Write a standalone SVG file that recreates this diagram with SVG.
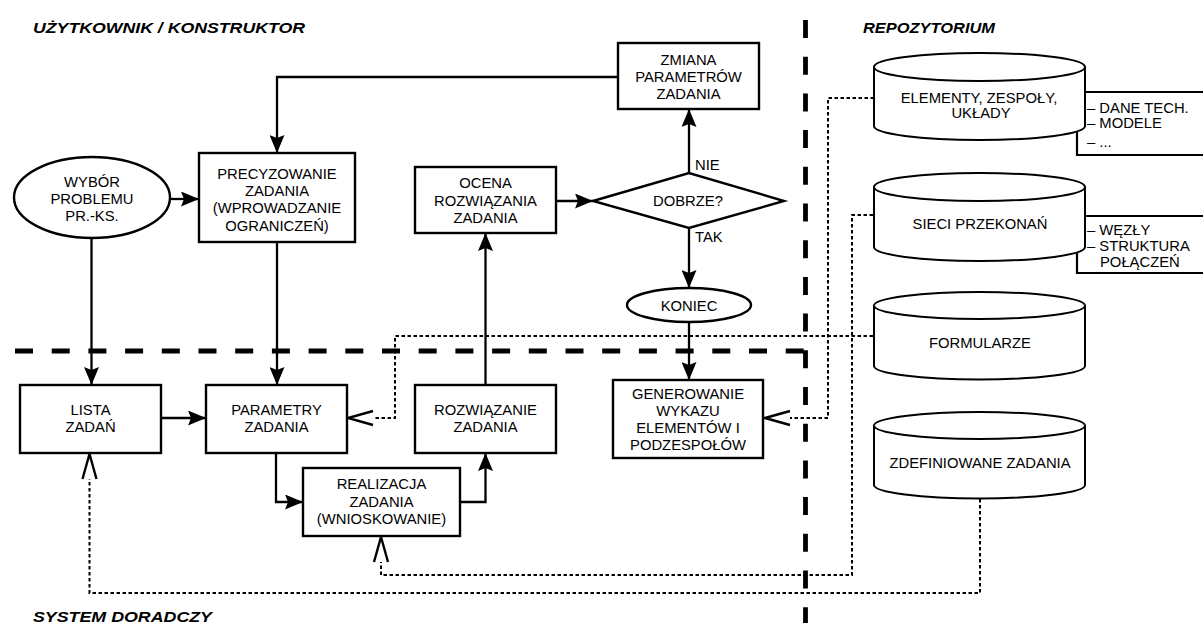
<svg xmlns="http://www.w3.org/2000/svg" width="1203" height="623" viewBox="0 0 1203 623">
<style>
text{font-family:"Liberation Sans",Arial,sans-serif;font-size:14.8px;fill:#000;text-anchor:middle}
.title{font-weight:bold;font-style:italic;font-size:14.5px;text-anchor:start}
.lbl{text-anchor:start}
.box{fill:#fff;stroke:#000;stroke-width:2.4}
.cyl{fill:#fff;stroke:#000;stroke-width:2}
.ln{fill:none;stroke:#000;stroke-width:2.3}
.dot{fill:none;stroke:#000;stroke-width:2;stroke-dasharray:3.5 2.5}
.region{fill:none;stroke:#000;stroke-width:4.8;stroke-dasharray:18 18.7}
.brk{fill:none;stroke:#000;stroke-width:2.2}
</style>
<defs>
<marker id="arr" viewBox="0 0 18 15" refX="18" refY="7.5" markerWidth="18" markerHeight="15" markerUnits="userSpaceOnUse" orient="auto">
<path d="M0,0 L18,7.5 L0,15 L3,7.5 z" fill="#000"/>
</marker>
<marker id="open" viewBox="0 -9 27 18" refX="0" refY="0" markerWidth="27" markerHeight="18" markerUnits="userSpaceOnUse" orient="auto" overflow="visible">
<path d="M0,-7 L25,0 L0,7" fill="none" stroke="#000" stroke-width="2.4"/>
</marker>
</defs>
<rect width="1203" height="623" fill="#fff"/>

<g id="regions">
<path class="region" d="M805.5,20 V623"/>
<path class="region" d="M15,351 H806"/>
<text class="title" x="33" y="33" textLength="272" lengthAdjust="spacingAndGlyphs">UŻYTKOWNIK / KONSTRUKTOR</text>
<text class="title" x="863" y="33" textLength="132" lengthAdjust="spacingAndGlyphs">REPOZYTORIUM</text>
<text class="title" x="33" y="622" textLength="179" lengthAdjust="spacingAndGlyphs">SYSTEM DORADCZY</text>
</g>

<g id="connectors">
<path class="ln" d="M618,77 H277 V153" marker-end="url(#arr)"/>
<path class="ln" d="M170,199 H199" marker-end="url(#arr)"/>
<path class="ln" d="M91.5,238 V385" marker-end="url(#arr)"/>
<path class="ln" d="M277,242 V385" marker-end="url(#arr)"/>
<path class="ln" d="M161,418 H206" marker-end="url(#arr)"/>
<path class="ln" d="M276,453 V502 H303" marker-end="url(#arr)"/>
<path class="ln" d="M460,502 H485.5 V453" marker-end="url(#arr)"/>
<path class="ln" d="M485.5,385 V233" marker-end="url(#arr)"/>
<path class="ln" d="M556,201 H593" marker-end="url(#arr)"/>
<path class="ln" d="M689,173 V109" marker-end="url(#arr)"/>
<path class="ln" d="M689,228 V288" marker-end="url(#arr)"/>
<path class="ln" d="M689,322 V380" marker-end="url(#arr)"/>
<path class="dot" d="M874,98 H828 V418 H790" marker-end="url(#open)"/>
<path class="dot" d="M873,215 H852 V575 H381 V562" marker-end="url(#open)"/>
<path class="dot" d="M873,336 H395 V418 H373" marker-end="url(#open)"/>
<path class="dot" d="M980,499 V593 H89.5 V479" marker-end="url(#open)"/>
<text class="lbl" x="695" y="170">NIE</text>
<text class="lbl" x="695" y="242">TAK</text>
</g>

<g id="wybor">
<ellipse class="box" cx="92" cy="197.5" rx="78" ry="40.5"/>
<text x="92" y="187">WYBÓR</text>
<text x="92" y="204">PROBLEMU</text>
<text x="92" y="221">PR.-KS.</text>
</g>

<g id="precyzowanie">
<rect class="box" x="199" y="153" width="156" height="89"/>
<text x="277" y="178.5">PRECYZOWANIE</text>
<text x="277" y="196">ZADANIA</text>
<text x="277" y="213">(WPROWADZANIE</text>
<text x="277" y="230.5">OGRANICZEŃ)</text>
</g>

<g id="zmiana">
<rect class="box" x="618" y="43" width="141" height="66"/>
<text x="688.5" y="65">ZMIANA</text>
<text x="688.5" y="82">PARAMETRÓW</text>
<text x="688.5" y="99">ZADANIA</text>
</g>

<g id="ocena">
<rect class="box" x="415" y="167" width="141" height="66"/>
<text x="485.5" y="188">OCENA</text>
<text x="485.5" y="205.5">ROZWIĄZANIA</text>
<text x="485.5" y="223">ZADANIA</text>
</g>

<g id="dobrze">
<polygon class="box" points="593,201 689,173 784,201 689,228"/>
<text x="688" y="206">DOBRZE?</text>
</g>

<g id="koniec">
<ellipse class="box" cx="689" cy="305" rx="62" ry="17"/>
<text x="689" y="310.5">KONIEC</text>
</g>

<g id="lista">
<rect class="box" x="20" y="385" width="141" height="68"/>
<text x="90.5" y="415">LISTA</text>
<text x="90.5" y="432">ZADAŃ</text>
</g>

<g id="parametry">
<rect class="box" x="206" y="385" width="141" height="68"/>
<text x="276.5" y="415">PARAMETRY</text>
<text x="276.5" y="432">ZADANIA</text>
</g>

<g id="rozwiazanie">
<rect class="box" x="415" y="385" width="141" height="68"/>
<text x="485.5" y="415">ROZWIĄZANIE</text>
<text x="485.5" y="432">ZADANIA</text>
</g>

<g id="realizacja">
<rect class="box" x="303" y="468" width="157" height="68"/>
<text x="381.5" y="489">REALIZACJA</text>
<text x="381.5" y="507">ZADANIA</text>
<text x="381.5" y="524">(WNIOSKOWANIE)</text>
</g>

<g id="generowanie">
<rect class="box" x="613" y="380" width="150" height="78"/>
<text x="688" y="399">GENEROWANIE</text>
<text x="688" y="416">WYKAZU</text>
<text x="688" y="433">ELEMENTÓW I</text>
<text x="688" y="449.5">PODZESPOŁÓW</text>
</g>

<g id="elementy">
<path class="brk" d="M1210,92 H1077 V155 H1210"/>
<path class="cyl" d="M874,67 A105.5,14 0 0 1 1085,67 V126 A105.5,14 0 0 1 874,126 Z"/>
<path class="cyl" d="M874,67 A105.5,14 0 0 0 1085,67" fill="none"/>
<text x="979" y="103">ELEMENTY, ZESPOŁY,</text>
<text x="981" y="118">UKŁADY</text>
<text class="lbl" x="1087" y="113">– DANE TECH.</text>
<text class="lbl" x="1087" y="128">– MODELE</text>
<text class="lbl" x="1087" y="147">– ...</text>
</g>

<g id="sieci">
<path class="brk" d="M1210,216 H1077 V273 H1210"/>
<path class="cyl" d="M874,187 A105.5,14 0 0 1 1085,187 V247 A105.5,14 0 0 1 874,247 Z"/>
<path class="cyl" d="M874,187 A105.5,14 0 0 0 1085,187" fill="none"/>
<text x="980" y="229">SIECI PRZEKONAŃ</text>
<text class="lbl" x="1087" y="235">– WĘZŁY</text>
<text class="lbl" x="1087" y="251">– STRUKTURA</text>
<text class="lbl" x="1100" y="267">POŁĄCZEŃ</text>
</g>

<g id="formularze">
<path class="cyl" d="M874,305.5 A105.5,13.5 0 0 1 1085,305.5 V366 A105.5,13.5 0 0 1 874,366 Z"/>
<path class="cyl" d="M874,305.5 A105.5,13.5 0 0 0 1085,305.5" fill="none"/>
<text x="980" y="348">FORMULARZE</text>
</g>

<g id="zdefiniowane">
<path class="cyl" d="M874,425.5 A105.5,13.5 0 0 1 1085,425.5 V485 A105.5,13.5 0 0 1 874,485 Z"/>
<path class="cyl" d="M874,425.5 A105.5,13.5 0 0 0 1085,425.5" fill="none"/>
<text x="980" y="468">ZDEFINIOWANE ZADANIA</text>
</g>
</svg>
